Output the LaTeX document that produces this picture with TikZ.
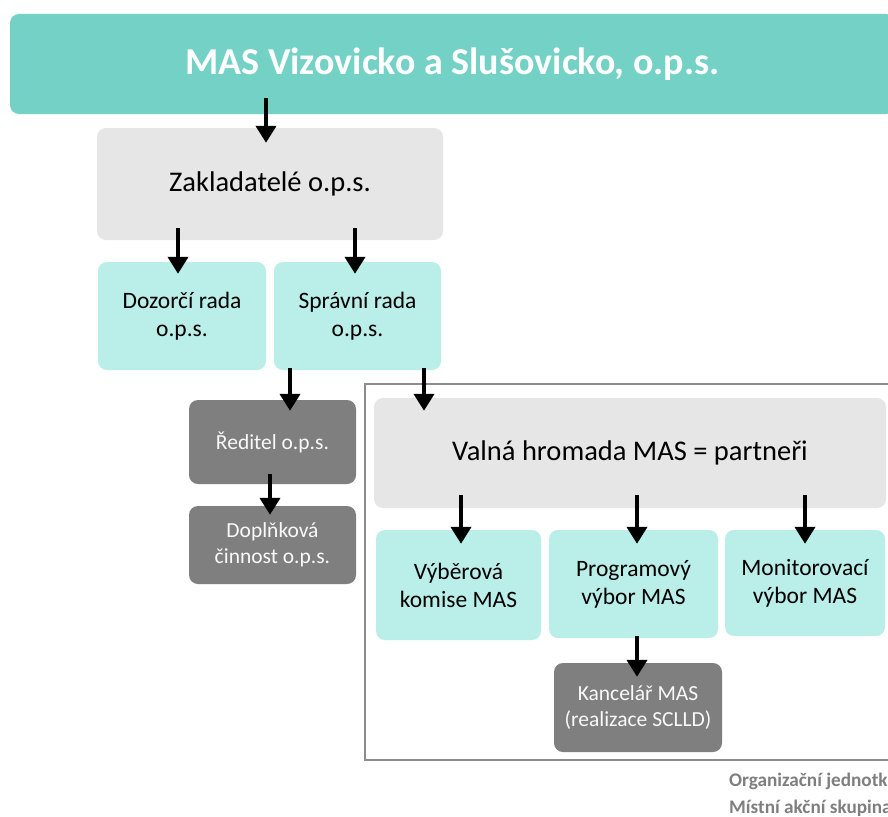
\documentclass[tikz,border=0pt]{standalone}
\usepackage{fontspec}
\setmainfont{Carlito}
\usetikzlibrary{arrows.meta}
\definecolor{teal1}{HTML}{73D1C5}
\definecolor{cyan1}{HTML}{BAEEE9}
\definecolor{gray1}{HTML}{E6E6E6}
\definecolor{gray2}{HTML}{7F7F7F}
\definecolor{frameg}{HTML}{8C8C8C}
\tikzset{
  base/.style={rectangle, rounded corners=9pt, inner sep=2pt, align=center},
  banner/.style={base, fill=teal1, text=white, font=\bfseries\fontsize{38}{42}\selectfont},
  grey/.style={base, fill=gray1, text=black, font=\fontsize{28.5}{32}\selectfont},
  cbox/.style={base, fill=cyan1, text=black, font=\fontsize{23.5}{28}\selectfont},
  dbox/.style={base, fill=gray2, text=white!95!gray, font=\fontsize{21.5}{26}\selectfont},
  arr/.style={line width=4pt, -{Triangle[width=20pt,length=17pt]}},
  note/.style={anchor=west, inner sep=0pt, text=gray2, font=\bfseries\fontsize{19.2}{21}\selectfont}
}
\begin{document}
\begin{tikzpicture}[x=1pt,y=-1pt]
\useasboundingbox (0,0) rectangle (888,816);
\clip (0,0) rectangle (888,816);
\fill[white] (0,0) rectangle (888,816);
% frame
\node[draw=frameg, line width=1.4pt, minimum width=540pt, minimum height=376pt, inner sep=0pt] (frame) at (635,572) {};
% boxes
\node[banner, minimum width=885pt, minimum height=100pt] (ban) at (452.5,64) {MAS Vizovicko a Slušovicko, o.p.s.};
\node[grey, minimum width=346pt, minimum height=112pt] (zak) at (270,184) {Zakladatelé o.p.s.};
\node[cbox, minimum width=168pt, minimum height=108pt] (doz) at (182,316) {Dozorčí rada\\o.p.s.};
\node[cbox, minimum width=167pt, minimum height=108pt] (spr) at (357.5,316) {Správní rada\\o.p.s.};
\node[dbox, minimum width=167pt, minimum height=84pt] (red) at (272.5,442) {Ředitel o.p.s.};
\node[dbox, minimum width=167pt, minimum height=78pt] (dop) at (272.5,545) {Doplňková\\činnost o.p.s.};
\node[grey, minimum width=512pt, minimum height=110pt] (val) at (630,453) {Valná hromada MAS = partneři};
\node[cbox, minimum width=165pt, minimum height=110pt] (vyb) at (458.5,585) {Výběrová\\komise MAS};
\node[cbox, minimum width=169pt, minimum height=108pt] (pro) at (633.5,584) {Programový\\výbor MAS};
\node[cbox, minimum width=160pt, minimum height=106pt] (mon) at (805,583) {Monitorovací\\výbor MAS};
\node[dbox, minimum width=168pt, minimum height=89pt] (kan) at (638,707.5) {Kancelář MAS\\(realizace SCLLD)};
% notes
\node[note] (n1) at (729,781) {Organizační jednotk};
\node[note] (n2) at (729,808) {Místní akční skupina};
% arrows
\coordinate (a1) at ([xshift=-4pt]zak.north);
\draw[arr, shorten <=-16pt, shorten >=-15pt] (ban.south -| a1) -- (a1);
\coordinate (a2) at ([xshift=-4pt]doz.north);
\draw[arr, shorten <=-12pt, shorten >=-12pt] (zak.south -| a2) -- (a2);
\coordinate (a3) at ([xshift=-2.5pt]spr.north);
\draw[arr, shorten <=-12pt, shorten >=-12pt] (zak.south -| a3) -- (a3);
\coordinate (a4) at ([xshift=17.5pt]red.north);
\draw[arr, shorten <=-2pt, shorten >=-11pt] (spr.south -| a4) -- (a4);
\coordinate (a5) at ([xshift=-206pt]val.north);
\draw[arr, shorten <=-2pt, shorten >=-13pt] (spr.south -| a5) -- (a5);
\coordinate (a6) at ([xshift=-2.5pt]dop.north);
\draw[arr, shorten <=-10pt, shorten >=-9pt] (red.south -| a6) -- (a6);
\coordinate (a7) at ([xshift=2.5pt]vyb.north);
\draw[arr, shorten <=-13pt, shorten >=-14pt] (val.south -| a7) -- (a7);
\coordinate (a8) at ([xshift=3.5pt]pro.north);
\draw[arr, shorten <=-13pt, shorten >=-14pt] (val.south -| a8) -- (a8);
\draw[arr, shorten <=-13pt, shorten >=-14pt] (val.south -| mon.north) -- (mon.north);
\coordinate (a9) at ([xshift=-1pt]kan.north);
\draw[arr, shorten <=-2pt, shorten >=-14pt] (pro.south -| a9) -- (a9);
\end{tikzpicture}
\end{document}
